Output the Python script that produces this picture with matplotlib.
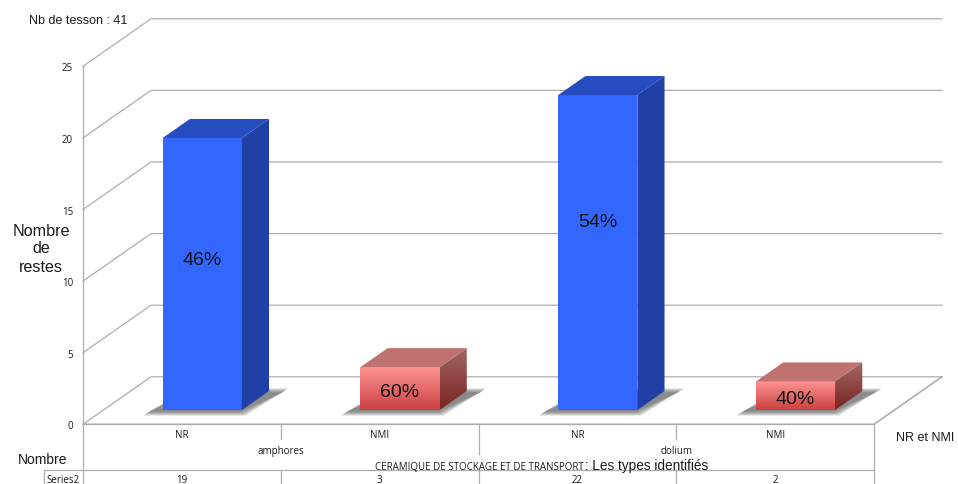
import numpy as np
import matplotlib
matplotlib.use('Agg')
import matplotlib.pyplot as plt
from matplotlib.colors import LinearSegmentedColormap
from matplotlib.patches import Polygon

#----Data----
categories = ['NR', 'NMI', 'NR', 'NMI']
groups = ['amphores', 'dolium']
values = [19, 3, 22, 2]
percents = ['46%', '60%', '54%', '40%']
yticks = [0, 5, 10, 15, 20, 25]

#----Figure layout and 3D look----
W, H = 958, 485
X0, CATW = 83, 197.75     # left of the front plane, width of a category (pixels)
Y0, UNIT = 425.3, 14.32   # value 0 on the front plane, pixels per unit
DX = 68 / CATW            # full floor depth in x, in categories
DY = 47.5 / UNIT          # full floor depth in y, in value units
D0, D1 = 0.3, 0.7         # bar front and back inside the floor depth
BARW = 0.4
GRID = '#adadad'
SANS = 'Liberation Sans'
SMALL = 'Open Sans'
PCT_HEIGHT = [10.5, 1.28, 13.15, 0.82]   # where the percent sits on each bar, in value units

fig = plt.figure(figsize=(W / 100, H / 100), dpi=100)
ax = fig.add_axes([0, 0, 1, 1])
ax.set_xlim(-X0 / CATW, (W - X0) / CATW)
ax.set_ylim((Y0 - H) / UNIT, Y0 / UNIT)
ax.axis('off')


def pt(cat, val, depth=0.0):
    return (cat + depth * DX, val + depth * DY)


def label(px, py, s, size, family=SANS, ha='center', color='#1a1a1a'):
    fig.text(px / W, 1 - py / H, s, fontsize=size, family=family, ha=ha, va='center', color=color)


def gradient_face(corners, top, bottom, z):
    # vertical gradient clipped to a parallelogram
    xs = [c[0] for c in corners]
    ys = [c[1] for c in corners]
    cmap = LinearSegmentedColormap.from_list('face', [bottom, top])
    img = ax.imshow(np.linspace(0, 1, 64)[:, None], origin='lower', cmap=cmap, aspect='auto',
                    extent=(min(xs), max(xs), min(ys), max(ys)), zorder=z)
    img.set_clip_path(Polygon(corners, closed=True, transform=ax.transData))


#----Walls and floor----
bottom = (Y0 - H) / UNIT
top_val = yticks[-1]
ax.plot(*zip(pt(0, bottom), pt(0, top_val)), color=GRID, lw=0.9, zorder=1)
for v in yticks:
    ax.plot(*zip(pt(0, v), pt(0, v, 1), pt(len(values), v, 1)), color=GRID, lw=0.9, zorder=1)
ax.plot(*zip(pt(0, 0), pt(len(values), 0), pt(len(values), 0, 1)), color=GRID, lw=1.2, zorder=1)

#----Bars----
for i, v in enumerate(values):
    left = i + 0.5 - BARW / 2
    right = left + BARW

    # soft shadow on the floor, stacked polygons fade out at the edges
    for grow in np.linspace(0.02, -0.01, 8):
        g = grow * 10
        shadow = [pt(left - 0.08 - grow, -0.2 - g, D0),
                  pt(right + grow, -0.2 - g, D0),
                  pt(right + 0.08 + grow, g, D1),
                  pt(left - grow, g, D1)]
        ax.add_patch(Polygon(shadow, closed=True, fc='#505050', ec='none', alpha=0.12, zorder=2))

    front = [pt(left, 0, D0), pt(right, 0, D0), pt(right, v, D0), pt(left, v, D0)]
    side = [pt(right, 0, D0), pt(right, 0, D1), pt(right, v, D1), pt(right, v, D0)]
    top = [pt(left, v, D0), pt(right, v, D0), pt(right, v, D1), pt(left, v, D1)]

    if categories[i] == 'NR':
        ax.add_patch(Polygon(front, closed=True, fc='#3366ff', ec='none', zorder=3))
        ax.add_patch(Polygon(side, closed=True, fc='#2140a6', ec='none', zorder=3))
        ax.add_patch(Polygon(top, closed=True, fc='#264dbf', ec='none', zorder=3))
    else:
        gradient_face(front, '#ff9393', '#cb4141', 3)
        gradient_face(side, '#a06666', '#7a2420', 3)
        ax.add_patch(Polygon(top, closed=True, fc='#c07270', ec='none', zorder=3))

    cx, cy = pt(i + 0.5, PCT_HEIGHT[i], D0)
    ax.text(cx, cy, percents[i], fontsize=14, family=SANS, ha='center', va='center',
            color='#111111', zorder=4)

#----Table under the chart----
row_a, row_b, row_c = (Y0 - 440) / UNIT, (Y0 - 455) / UNIT, (Y0 - 471) / UNIT
for c in range(1, len(values)):
    end = row_b if c == 2 else row_a
    ax.plot([c, c], [0, end], color=GRID, lw=0.9, zorder=1)
    ax.plot([c, c], [row_c, bottom], color=GRID, lw=0.9, zorder=1)
ax.plot([len(values)] * 2, [0, bottom], color=GRID, lw=0.9, zorder=1)
series_left = (44 - X0) / CATW
ax.plot([series_left, len(values)], [row_c, row_c], color=GRID, lw=0.9, zorder=1)
ax.plot([series_left, series_left], [row_c, bottom], color=GRID, lw=0.9, zorder=1)

for i, (c, v) in enumerate(zip(categories, values)):
    px = X0 + (i + 0.5) * CATW
    label(px, 436, c, 7, SMALL)
    label(px, 481, str(v), 7, SMALL)
for g, px in zip(groups, [X0 + CATW, X0 + 3 * CATW]):
    label(px, 451.5, g, 7, SMALL)
label(63, 481, 'Series2', 7, SMALL)

#----Axis labels and titles----
for v in yticks:
    label(73, 424 - v * UNIT + 3, str(v), 7, SMALL, ha='right')
label(41, 231.5, 'Nombre', 11.6)
label(41, 249, 'de', 11.6)
label(41, 267, 'restes', 11.6)
label(18, 460.5, 'Nombre', 10, ha='left')
label(896, 438.5, 'NR et NMI', 9, ha='left')
label(29, 20.5, 'Nb de tesson : 41', 9, ha='left')
label(375, 467.5, 'CERAMIQUE DE STOCKAGE ET DE TRANSPORT', 7.05, SMALL, ha='left')
label(581, 466.5, ' : Les types identifiés', 9.8, ha='left')

fig.savefig('out.png', dpi=100)
